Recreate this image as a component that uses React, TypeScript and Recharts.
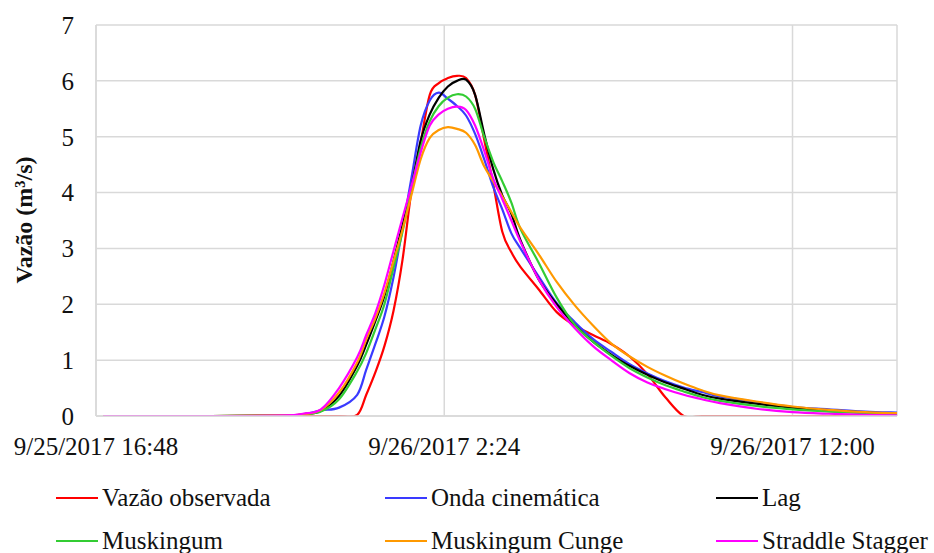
import React from 'react';
import { LineChart, Line, XAxis, YAxis, CartesianGrid } from 'recharts';

// hours since 9/25/2017 00:00
const times = [17, 20, 22, 22.5, 23, 23.5, 24, 24.25, 24.5, 24.75, 25, 25.25, 25.5, 25.75, 26, 26.25, 26.5, 26.75, 27, 27.25, 27.5, 27.75, 28, 28.25, 28.5, 29, 29.5, 30, 30.5, 31, 31.5, 32, 32.5, 33, 33.5, 34, 35, 36, 37, 38, 38.88];

const vazaoObservada = [0, 0, 0, 0, 0, 0, 0.02, 0.38, 0.78, 1.25, 1.88, 2.8, 4.05, 4.9, 5.75, 5.96, 6.05, 6.09, 6.05, 5.75, 4.95, 4.15, 3.3, 2.93, 2.67, 2.27, 1.86, 1.62, 1.45, 1.29, 1.07, 0.75, 0.33, 0, 0, 0, 0, 0, 0, 0, 0];
const ondaCinematica = [0, 0, 0, 0.03, 0.1, 0.15, 0.38, 0.83, 1.29, 1.78, 2.48, 3.36, 4.28, 5.2, 5.65, 5.79, 5.68, 5.55, 5.38, 5.05, 4.6, 4.1, 3.7, 3.27, 3.0, 2.5, 2.02, 1.68, 1.38, 1.15, 0.93, 0.76, 0.62, 0.51, 0.43, 0.35, 0.25, 0.16, 0.12, 0.08, 0.06];
const lag = [0, 0, 0.01, 0.03, 0.09, 0.36, 0.9, 1.28, 1.7, 2.15, 2.77, 3.42, 4.1, 4.93, 5.4, 5.7, 5.9, 6.0, 6.02, 5.75, 5.05, 4.42, 3.95, 3.62, 3.15, 2.45, 2.0, 1.63, 1.33, 1.1, 0.9, 0.74, 0.6, 0.49, 0.38, 0.31, 0.22, 0.15, 0.1, 0.06, 0.04];
const muskingum = [0, 0, 0.01, 0.03, 0.08, 0.3, 0.8, 1.13, 1.55, 2.0, 2.65, 3.3, 4.08, 4.8, 5.28, 5.55, 5.7, 5.76, 5.72, 5.5, 5.0, 4.55, 4.2, 3.82, 3.35, 2.75, 2.12, 1.63, 1.33, 1.08, 0.86, 0.69, 0.55, 0.44, 0.34, 0.27, 0.18, 0.12, 0.08, 0.05, 0.03];
const muskingumCunge = [0, 0, 0.01, 0.03, 0.11, 0.42, 0.96, 1.37, 1.75, 2.2, 2.77, 3.34, 3.97, 4.6, 4.98, 5.12, 5.17, 5.14, 5.07, 4.85, 4.47, 4.2, 3.93, 3.65, 3.37, 2.9, 2.4, 1.98, 1.62, 1.3, 1.07, 0.88, 0.72, 0.58, 0.46, 0.37, 0.26, 0.17, 0.11, 0.07, 0.05];
const straddleStagger = [0, 0, 0.01, 0.04, 0.12, 0.5, 1.05, 1.45, 1.84, 2.35, 2.95, 3.55, 4.13, 4.72, 5.2, 5.4, 5.5, 5.54, 5.48, 5.2, 4.75, 4.25, 3.88, 3.5, 3.12, 2.45, 1.95, 1.57, 1.25, 1.0, 0.77, 0.6, 0.48, 0.38, 0.3, 0.23, 0.13, 0.07, 0.04, 0.02, 0.01];

const seriesNames = ['Vazão observada', 'Onda cinemática', 'Lag', 'Muskingum', 'Muskingum Cunge', 'Straddle Stagger'];
const seriesValues = [vazaoObservada, ondaCinematica, lag, muskingum, muskingumCunge, straddleStagger];
const seriesColors = ['#ff0000', '#3a3aff', '#000000', '#33cc33', '#ff9900', '#ff00ff'];

const xTickValues = [16.8, 26.4, 36.0];
const xTickLabels = ['9/25/2017 16:48', '9/26/2017 2:24', '9/26/2017 12:00'];
const xDomain = [16.8, 38.88];
const yTicks = [0, 1, 2, 3, 4, 5, 6, 7];
const yLabel = 'Vazão (m³/s)';

const legendOrder = [0, 1, 2, 3, 4, 5];

const data = times.map((t, i) => {
  const row: Record<string, number> = { t };
  seriesValues.forEach((s, k) => {
    row['s' + k] = s[i];
  });
  return row;
});

const FONT = "'Liberation Serif', 'Times New Roman', serif";
const GRID = '#d9d9d9';

const fmtX = (v: number) => {
  const i = xTickValues.findIndex((x) => Math.abs(x - v) < 1e-6);
  return i >= 0 ? xTickLabels[i] : '';
};

// Excel-like smoothed line (Catmull-Rom through the points)
const smoothCurve = (context: any) => {
  let pts: number[][] = [];
  return {
    areaStart() {},
    areaEnd() {},
    lineStart() {
      pts = [];
    },
    point(x: number, y: number) {
      pts.push([+x, +y]);
    },
    lineEnd() {
      if (!pts.length) return;
      context.moveTo(pts[0][0], pts[0][1]);
      for (let i = 0; i < pts.length - 1; i++) {
        const p0 = pts[i - 1] || pts[i];
        const p1 = pts[i];
        const p2 = pts[i + 1];
        const p3 = pts[i + 2] || p2;
        const c1x = p1[0] + (p2[0] - p0[0]) / 6;
        const c1y = p1[1] + (p2[1] - p0[1]) / 6;
        const c2x = p2[0] - (p3[0] - p1[0]) / 6;
        const c2y = p2[1] - (p3[1] - p1[1]) / 6;
        context.bezierCurveTo(c1x, c1y, c2x, c2y, p2[0], p2[1]);
      }
    },
  };
};

export default function App() {
  const colLeft = [56, 385, 716];
  const rowTop = [484, 527];
  return (
    <div style={{ position: 'absolute', left: 0, top: 0, width: 934, height: 553, background: '#fff', fontFamily: FONT }}>
      <LineChart width={934} height={553} data={data} margin={{ top: 25, right: 37, bottom: 0, left: 0 }}>
        <CartesianGrid stroke={GRID} strokeWidth={1.5} />
        <XAxis
          dataKey="t"
          type="number"
          domain={xDomain}
          ticks={xTickValues}
          tickFormatter={fmtX}
          interval={0}
          height={137}
          tickSize={0}
          tickMargin={21}
          axisLine={{ stroke: GRID, strokeWidth: 1.5 }}
          tick={{ fontSize: 25, fill: '#111', fontFamily: FONT }}
          allowDataOverflow
        />
        <YAxis
          type="number"
          domain={[0, 7]}
          ticks={yTicks}
          interval={0}
          width={96}
          tickSize={0}
          tickMargin={22}
          allowDataOverflow
          axisLine={{ stroke: GRID, strokeWidth: 1.5 }}
          tick={{ fontSize: 25, fill: '#111', fontFamily: FONT }}
          label={() => (
            <text
              x={24}
              y={220}
              transform="rotate(-90 24 220)"
              textAnchor="middle"
              dominantBaseline="central"
              fontSize={24}
              fontWeight="bold"
              fontFamily={FONT}
              fill="#111"
            >
              {yLabel}
            </text>
          )}
        />
        {seriesNames.map((name, k) => (
          <Line
            key={name}
            name={name}
            dataKey={'s' + k}
            type={smoothCurve as any}
            stroke={seriesColors[k]}
            strokeWidth={2.2}
            dot={false}
            activeDot={false}
            isAnimationActive={false}
          />
        ))}
      </LineChart>
      {legendOrder.map((k, idx) => {
        const col = idx % 3;
        const row = Math.floor(idx / 3);
        return (
          <div
            key={k}
            style={{
              position: 'absolute',
              left: colLeft[col],
              top: rowTop[row],
              height: 28,
              display: 'flex',
              alignItems: 'center',
              whiteSpace: 'nowrap',
              fontSize: 25,
              color: '#111',
              fontFamily: FONT,
            }}
          >
            <span style={{ display: 'inline-block', width: 42, height: 2.5, background: seriesColors[k], marginRight: 4 }} />
            <span>{seriesNames[k]}</span>
          </div>
        );
      })}
    </div>
  );
}
